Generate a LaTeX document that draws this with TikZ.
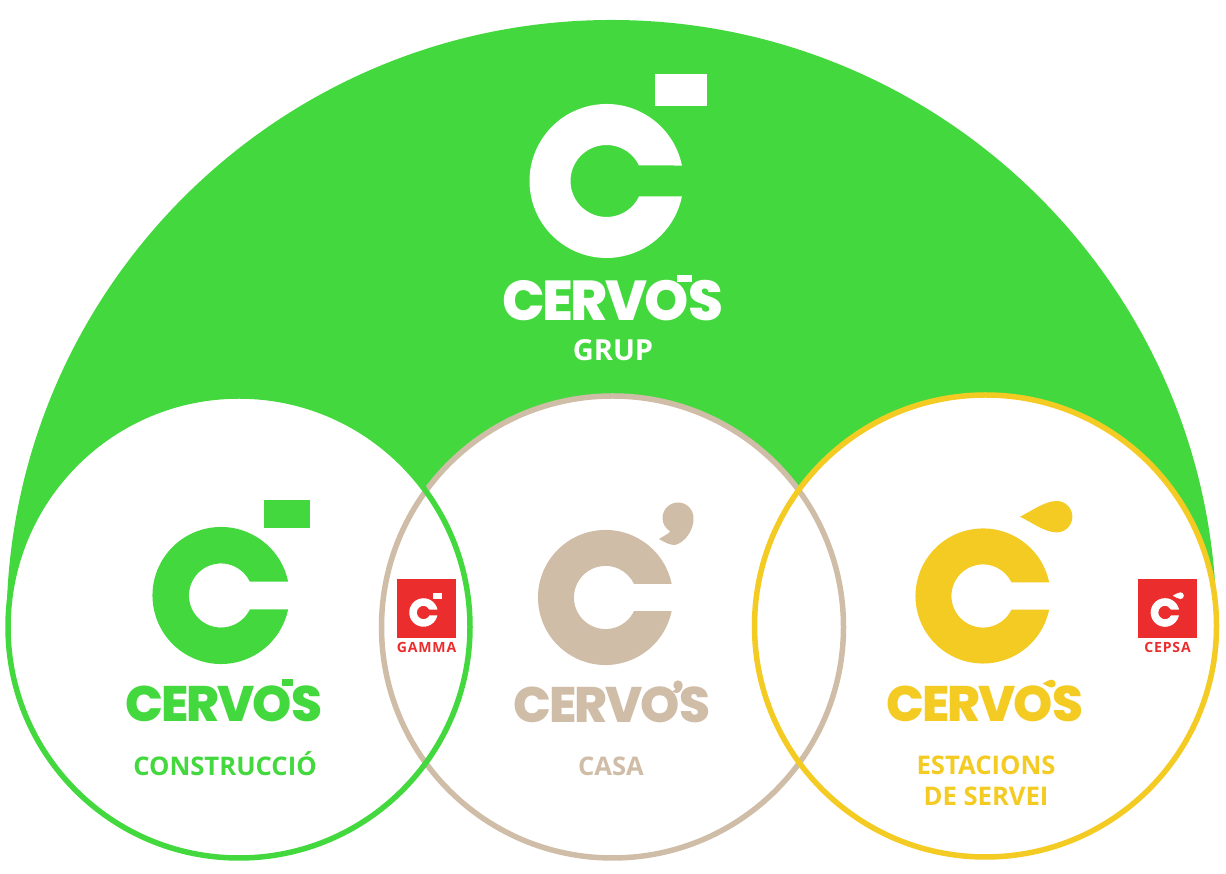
\documentclass[tikz,border=0pt]{standalone}
\usepackage{fontspec}
\usepackage{graphicx}
\setmainfont{Open Sans}
\newfontfamily\wordfont{Poppins}[UprightFont=* ExtraBold,LetterSpace=-4.5]
\newfontfamily\redfont{Open Sans}[LetterSpace=6]
\definecolor{grupgreen}{HTML}{43D93E}
\definecolor{casatan}{HTML}{D0BDA7}
\definecolor{servyellow}{HTML}{F3CB22}
\definecolor{logored}{HTML}{EC2D2D}
\tikzset{
	ringc/.pic={\path[pic actions] (11.6:77) arc[start angle=11.6,end angle=348.4,radius=77]
		-- (-25.5:36) arc[start angle=-25.5,end angle=-334.5,radius=36] -- cycle;},
	markrect/.pic={\path[pic actions] (49,75.3) rectangle (101,107);},
	markdrop/.pic={\path[pic actions] (41.6,90.4) .. controls (55,97) and (70,108.3) .. (83.4,108.3)
		arc[start angle=90,end angle=-90,radius=17.9] .. controls (70,72.5) and (55,84) .. cycle;},
	markcomma/.pic={\path[pic actions] (15.5,0) arc[start angle=0,end angle=240,radius=15.5]
		.. controls (-10,-16) and (-14,-18) .. (-19,-21)
		.. controls (-12,-25) and (-8,-27) .. (-3,-27)
		.. controls (8,-24) and (16,-11) .. cycle;},
	bigcircle/.style={line width=1.1mm},
	wordmark/.style={font=\fontsize{28.4}{28}\selectfont, inner sep=0pt, anchor=base},
	unitlabel/.style={font=\fontsize{14.6}{17.5}\selectfont\bfseries, inner sep=0pt, align=center},
	redlabel/.style={font=\fontsize{8}{9}\selectfont\bfseries\redfont, text=logored, inner sep=0pt},
}
\newcommand{\cervosword}{\wordfont CERVO\rlap{\hspace{-.09em}\raisebox{.62em}{\scalebox{.2}{'}}}S}

\begin{document}
\begin{tikzpicture}[x=0.02cm, y=0.02cm]
	\useasboundingbox (0,0) rectangle (1226,874);

	% big shapes
	\fill[grupgreen] (6.5,249) arc[start angle=180,end angle=0,radius=605] -- cycle;
	\fill[white] (239,247) circle[radius=231];
	\fill[white] (612.5,247) circle[radius=231];
	\fill[white] (985.5,248) circle[radius=231];
	\draw[casatan, bigcircle] (612.5,247) circle[radius=231];
	\draw[servyellow, bigcircle] (985.5,248) circle[radius=231];
	\draw[grupgreen, bigcircle] (239,247) circle[radius=231];

	% grup
	\pic[fill=white] at (606.5,693) {ringc};
	\pic[fill=white] at (606,693) {markrect};
	\node[wordmark, font=\fontsize{32}{32}\selectfont, text=white] (wordgrup) at (613,553) {\cervosword};
	\fill[white] (677,592) rectangle (692,599);
	\node[unitlabel, font=\fontsize{16.5}{20}\selectfont\bfseries, text=white, anchor=base] (labelgrup) at (613,513) {GRUP};

	% construccio
	\pic[fill=grupgreen, scale=0.89] at (221,278.5) {ringc};
	\pic[fill=grupgreen, scale=0.89] at (220.5,278.5) {markrect};
	\node[wordmark, text=grupgreen] (wordcons) at (224,152) {\cervosword};
	\fill[grupgreen] (282,188) rectangle (293,195);
	\node[unitlabel, text=grupgreen, anchor=base] (labelcons) at (225,98) {CONSTRUCCIÓ};

	% casa
	\pic[fill=casatan, scale=0.877] at (605.5,276.5) {ringc};
	\pic[fill=casatan] at (678,356) {markcomma};
	\node[wordmark, text=casatan] (wordcasa) at (612,151) {\cervosword};
	\pic[fill=casatan, scale=0.3] at (678,189) {markcomma};
	\node[unitlabel, text=casatan, anchor=base] (labelcasa) at (611,98.5) {CASA};

	% estacions de servei
	\pic[fill=servyellow, scale=0.877] at (983,278) {ringc};
	\pic[fill=servyellow, scale=0.877] at (983.5,278) {markdrop};
	\node[wordmark, text=servyellow] (wordserv) at (985,152) {\cervosword};
	\pic[fill=servyellow, scale=0.218] at (1033.6,170.7) {markdrop};
	\node[unitlabel, text=servyellow] (labelserv) at (986,93.5) {ESTACIONS\\DE SERVEI};

	% gamma
	\node[fill=logored, minimum size=1.18cm, inner sep=0pt] (boxgamma) at (426.5,265.5) {};
	\pic[fill=white, scale=0.185] at (423.5,261.5) {ringc};
	\pic[fill=white, scale=0.185] at (423.5,261.5) {markrect};
	\node[redlabel, anchor=base] (labelgamma) at (426.5,221) {GAMMA};

	% cepsa
	\node[fill=logored, minimum size=1.18cm, inner sep=0pt] (boxcepsa) at (1167.5,265.5) {};
	\pic[fill=white, scale=0.186] at (1165,261.5) {ringc};
	\pic[fill=white, scale=0.186] at (1165,261.5) {markdrop};
	\node[redlabel, anchor=base] (labelcepsa) at (1167.5,221) {CEPSA};
\end{tikzpicture}
\end{document}
